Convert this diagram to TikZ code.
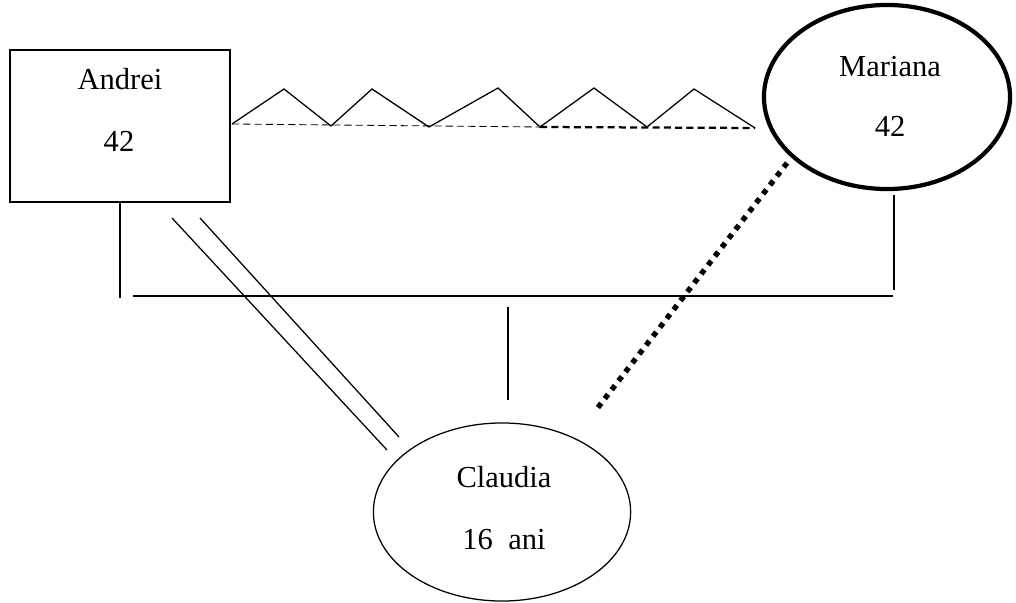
\documentclass[tikz,border=0pt]{standalone}
\usepackage{fontspec}
\setmainfont{Liberation Serif}
\usetikzlibrary{shapes.geometric}
\usetikzlibrary{calc}

\begin{document}
\begin{tikzpicture}[x=0.025cm,y=-0.025cm,
    person/.style={draw,line width=0.9pt,inner sep=0pt},
    tag/.style={anchor=base,inner sep=0pt,font=\fontsize{21.7}{26}\selectfont},
    rel/.style={line width=0.9pt}]

  \useasboundingbox (0,0) rectangle (1016,603);

  \node [person,rectangle,minimum width=5.5cm,minimum height=3.8cm] (A) at (120,126) {};
  \node [person,ellipse,line width=3pt,minimum width=6.15cm,minimum height=4.6cm] (M) at (887,97) {};
  \node [person,ellipse,minimum width=6.43cm,minimum height=4.45cm] (C) at (502,512) {};

  \node [tag] (A_name) at (120,90) {Andrei};
  \node [tag] (A_age) at (119,152) {42};
  \node [tag] (M_name) at (890,77) {Mariana};
  \node [tag] (M_age) at (890,137) {42};
  \node [tag] (C_name) at (504,487) {Claudia};
  \node [tag] (C_age) at (504,549) {16~~ani};

  \coordinate (A_down) at (120,298);
  \coordinate (bar_l) at (133,296);
  \coordinate (bar_r) at (893,296);
  \coordinate (M_top) at (894,195);
  \coordinate (M_down) at (894,290);
  \coordinate (C_up) at (508,307);
  \coordinate (C_top) at (508,400);
  \coordinate (dbl_a1) at (172,218);
  \coordinate (dbl_c1) at (387,450);
  \coordinate (dbl_a2) at (200,218);
  \coordinate (dbl_c2) at (399,437);
  \coordinate (dot_m) at (787,163);
  \coordinate (dot_c) at (596,410);
  \coordinate (zz_a) at (232,124);
  \coordinate (zz_mid) at (540,127);
  \coordinate (zz_m) at (755,128);

  % family bar
  \path [draw,rel]
    (A.south) edge (A_down)
    (M_top)   edge (M_down)
    (bar_l)   edge (bar_r)
    (C_up)    edge (C_top);

  % couple
  \draw [rel] (zz_a) -- (284,89) -- (331,126) -- (372,89) -- (429,127) -- (498,88)
    -- (zz_mid) -- (594,88) -- (647,127) -- (694,89) -- (zz_m);
  \draw [line width=0.6pt,dash pattern=on 5pt off 3pt] (zz_a) -- (zz_mid);
  \draw [line width=1.6pt,dash pattern=on 5pt off 3pt] (zz_mid) -- (zz_m);

  % Andrei -- Claudia, Mariana -- Claudia
  \path [draw,rel]
    (dbl_a1) edge (dbl_c1)
    (dbl_a2) edge (dbl_c2);
  \draw [line width=3.8pt,dash pattern=on 3.8pt off 4.2pt] (dot_m) -- (dot_c);

\end{tikzpicture}
\end{document}
